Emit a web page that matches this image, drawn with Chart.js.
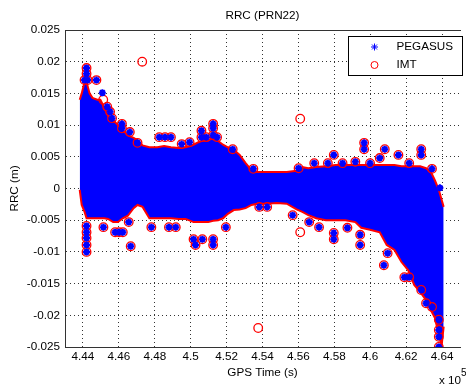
<!DOCTYPE html>
<html>
<head>
<meta charset="utf-8">
<title>RRC (PRN22)</title>
<script src="https://cdn.jsdelivr.net/npm/chart.js@4.4.1/dist/chart.umd.min.js"></script>
<style>
  html, body { margin: 0; padding: 0; background: #fff; }
  canvas { display: block; }
</style>
</head>
<body>
<canvas id="rrc-chart" width="466" height="387"></canvas>
<script>
// GPS time in seconds, RRC in metres
const xTicks = [444000, 446000, 448000, 450000, 452000, 454000, 456000, 458000, 460000, 462000, 464000];
const xTickLabels = ['4.44', '4.46', '4.48', '4.5', '4.52', '4.54', '4.56', '4.58', '4.6', '4.62', '4.64'];
const yTicks = [-0.025, -0.02, -0.015, -0.01, -0.005, 0, 0.005, 0.01, 0.015, 0.02, 0.025];
const yTickLabels = ['-0.025', '-0.02', '-0.015', '-0.01', '-0.005', '0', '0.005', '0.01', '0.015', '0.02', '0.025'];

// envelope of the dense 1 Hz samples (both solutions overlap inside it)
const bandTime = [443820, 443930, 444090, 444200, 444370, 444530, 444800, 444970, 445190, 445400,
  445680, 445950, 446220, 446500, 446820, 447040, 447320, 447700, 448140, 448520,
  448900, 449340, 449720, 450160, 450430, 450700, 450980, 451250, 451530, 451800,
  452070, 452400, 452730, 453060, 453390, 453710, 454260, 454800, 455350, 455900,
  456220, 456550, 456990, 457530, 458070, 458620, 459170, 459500, 459990, 460530,
  460920, 461350, 461740, 462120, 462450, 462780, 463110, 463380, 463600, 463820,
  463980, 464090];
const bandUpper = [0.0140, 0.0150, 0.0168, 0.0168, 0.0150, 0.0143, 0.0140, 0.0140, 0.0127, 0.0115,
  0.0108, 0.0100, 0.0092, 0.0084, 0.0080, 0.0076, 0.0068, 0.0065, 0.0065, 0.0067,
  0.0065, 0.0064, 0.0065, 0.0069, 0.0073, 0.0076, 0.0076, 0.0080, 0.0075, 0.0069,
  0.0065, 0.0061, 0.0053, 0.0040, 0.0029, 0.0026, 0.0026, 0.0026, 0.0026, 0.0028,
  0.0034, 0.0032, 0.0034, 0.0035, 0.0037, 0.0037, 0.0037, 0.0037, 0.0037, 0.0037,
  0.0037, 0.0037, 0.0035, 0.0035, 0.0035, 0.0035, 0.0032, 0.0026, 0.0013, -0.0002,
  -0.0018, -0.0029];
const bandLower = [-0.0002, -0.0026, -0.0037, -0.0047, -0.0047, -0.0047, -0.0047, -0.0047, -0.0047, -0.0048,
  -0.0053, -0.0053, -0.0047, -0.0043, -0.0031, -0.0026, -0.0029, -0.0047, -0.0047, -0.0047,
  -0.0047, -0.0048, -0.0048, -0.0053, -0.0053, -0.0053, -0.0053, -0.0051, -0.0050, -0.0047,
  -0.0040, -0.0034, -0.0033, -0.0031, -0.0026, -0.0024, -0.0024, -0.0023, -0.0024, -0.0033,
  -0.0037, -0.0042, -0.0047, -0.0050, -0.0050, -0.0050, -0.0053, -0.0062, -0.0065, -0.0069,
  -0.0089, -0.0097, -0.0116, -0.0129, -0.0152, -0.0163, -0.0176, -0.0192, -0.0204, -0.0231,
  -0.0247, -0.0218];

// isolated epochs outside the envelope, seen by both solutions
const commonPeaks = [
  [444200, 0.0190], [444200, 0.0181], [444090, 0.0171], [444260, 0.0171], [444750, 0.0171],
  [445350, 0.0129], [445510, 0.0121], [445620, 0.0111], [446170, 0.0102], [446170, 0.0095],
  [446610, 0.0089], [447040, 0.0072], [448250, 0.0081], [448570, 0.0081], [448900, 0.0081],
  [449500, 0.0070], [449940, 0.0073], [450600, 0.0091], [450600, 0.0081], [450870, 0.0081],
  [451250, 0.0102], [451250, 0.0095], [451250, 0.0084], [451470, 0.0081], [452340, 0.0062],
  [453490, 0.0031], [456010, 0.0032], [456880, 0.0040], [457640, 0.0040], [457970, 0.0053],
  [458460, 0.0040], [459170, 0.0042], [459660, 0.0072], [459660, 0.0062], [459990, 0.0040],
  [460530, 0.0048], [460810, 0.0062], [461570, 0.0053], [462170, 0.0040], [462840, 0.0062],
  [462840, 0.0053], [463440, 0.0031],
  [444200, -0.0059], [444200, -0.0069], [444200, -0.0078], [444200, -0.0089], [444200, -0.0100],
  [445140, -0.0061], [445790, -0.0069], [446010, -0.0069], [446220, -0.0069], [446550, -0.0053],
  [446660, -0.0091], [447810, -0.0061], [448790, -0.0061], [449170, -0.0061], [450160, -0.0080],
  [450270, -0.0089], [450650, -0.0080], [451250, -0.0080], [451250, -0.0089], [451960, -0.0061],
  [453820, -0.0029], [454260, -0.0029], [455680, -0.0042], [456600, -0.0053], [457150, -0.0061],
  [457970, -0.0070], [457970, -0.0080], [458730, -0.0062], [459440, -0.0073], [459440, -0.0089],
  [460760, -0.0121], [460970, -0.0102], [461900, -0.0140], [462170, -0.0140], [462840, -0.0160],
  [463110, -0.0181], [463440, -0.0187], [463820, -0.0207], [463820, -0.0223], [463820, -0.0234],
  [463820, -0.0250]
];
const pegasusOnly = [[445080, 0.0151], [463880, 0.0001]];
const imtOnly = [[445130, 0.0140], [447300, 0.0200], [456100, 0.0110], [456100, -0.0069], [453760, -0.0220]];

const toXY = pts => pts.map(([x, y]) => ({ x, y }));

const FONT_FAMILY = '"Liberation Sans", Arial, Helvetica, sans-serif';
const FONT_SIZE = 11.7;
Chart.defaults.font.family = FONT_FAMILY;
Chart.defaults.font.size = FONT_SIZE;
Chart.defaults.color = '#000';

const gridStyle = { color: 'rgba(0,0,0,0.8)', lineWidth: 1, drawTicks: false };
const borderStyle = { color: '#333', width: 1, dash: [1, 3] };

// MATLAB-style boxed legend in the upper right corner
const legendBox = {
  id: 'legendBox',
  afterDraw(chart) {
    const { ctx } = chart;
    const left = 348.5, top = 36.5, w = 114, h = 39;
    ctx.save();
    ctx.fillStyle = '#fff';
    ctx.fillRect(left, top, w, h);
    ctx.strokeStyle = '#000';
    ctx.lineWidth = 1;
    ctx.strokeRect(left, top, w, h);

    const entries = chart.data.datasets.slice(0, 2);
    entries.forEach((ds, i) => {
      const y = top + 10.5 + i * 18;
      ctx.strokeStyle = ds.borderColor;
      ctx.fillStyle = 'rgba(0,0,0,0)';
      ctx.lineWidth = 1;
      Chart.helpers.drawPoint(ctx, { pointStyle: ds.pointStyle, radius: 3.5, borderWidth: 1, rotation: 0 }, 374.5, y);
      ctx.fillStyle = '#000';
      ctx.font = FONT_SIZE + 'px ' + FONT_FAMILY;
      ctx.textBaseline = 'middle';
      ctx.textAlign = 'left';
      ctx.fillText(ds.label, 396.5, y);
    });
    ctx.restore();
  }
};

// axis multiplier under the x axis
const timeExponent = {
  id: 'timeExponent',
  afterDraw(chart) {
    const { ctx } = chart;
    ctx.save();
    ctx.fillStyle = '#000';
    ctx.textBaseline = 'alphabetic';
    ctx.textAlign = 'left';
    ctx.font = FONT_SIZE + 'px ' + FONT_FAMILY;
    ctx.fillText('x 10', 439, 384);
    ctx.font = '10px ' + FONT_FAMILY;
    ctx.fillText('5', 461, 376);
    ctx.restore();
  }
};

const ctx = document.getElementById('rrc-chart').getContext('2d');

new Chart(ctx, {
  type: 'scatter',
  data: {
    datasets: [
      {
        label: 'PEGASUS',
        data: toXY(commonPeaks.concat(pegasusOnly)),
        pointStyle: 'star',
        pointRadius: 3.5,
        pointBorderWidth: 2,
        borderColor: '#0000ff',
        backgroundColor: '#0000ff',
        order: 0
      },
      {
        label: 'IMT',
        data: toXY(commonPeaks.concat(imtOnly)),
        pointStyle: 'circle',
        pointRadius: 4.3,
        pointBorderWidth: 1.3,
        borderColor: '#ff0000',
        backgroundColor: 'rgba(0,0,0,0)',
        order: 1
      },
      {
        label: 'envelope upper',
        data: bandTime.map((t, i) => ({ x: t, y: bandUpper[i] })),
        showLine: true,
        borderColor: '#ff0000',
        borderWidth: 2,
        pointRadius: 0,
        tension: 0,
        fill: false,
        order: 2
      },
      {
        label: 'envelope lower',
        data: bandTime.map((t, i) => ({ x: t, y: bandLower[i] })),
        showLine: true,
        borderColor: '#ff0000',
        borderWidth: 2,
        backgroundColor: '#0000ff',
        pointRadius: 0,
        tension: 0,
        fill: '-1',
        order: 3
      }
    ]
  },
  options: {
    responsive: false,
    devicePixelRatio: 1,
    animation: false,
    layout: { padding: 0 },
    plugins: {
      legend: { display: false },
      tooltip: { enabled: false }
    },
    scales: {
      x: {
        type: 'linear',
        position: 'bottom',
        min: 443000,
        max: 465000,
        afterBuildTicks: axis => { axis.ticks = xTicks.map(v => ({ value: v })); },
        afterFit: axis => { axis.height = 40; },
        ticks: { callback: (v, i) => xTickLabels[i], padding: 3, maxRotation: 0, autoSkip: false },
        grid: gridStyle,
        border: borderStyle,
        title: { display: true, text: 'GPS Time (s)', padding: { top: 0, bottom: 7 } }
      },
      xTop: {
        type: 'linear',
        position: 'top',
        min: 443000,
        max: 465000,
        afterFit: axis => { axis.height = 30; },
        ticks: { display: false },
        grid: { display: false, drawTicks: false },
        border: { color: '#333', width: 1 },
        title: { display: true, text: 'RRC (PRN22)', padding: { top: 9, bottom: 0 } }
      },
      y: {
        type: 'linear',
        min: -0.025,
        max: 0.025,
        afterBuildTicks: axis => { axis.ticks = yTicks.map(v => ({ value: v })); },
        afterFit: axis => { axis.width = 65; },
        ticks: { callback: (v, i) => yTickLabels[i], padding: 5, autoSkip: false },
        grid: gridStyle,
        border: borderStyle,
        title: { display: true, text: 'RRC (m)', padding: { top: 8, bottom: 0 } }
      }
    }
  },
  plugins: [legendBox, timeExponent]
});
</script>
</body>
</html>
